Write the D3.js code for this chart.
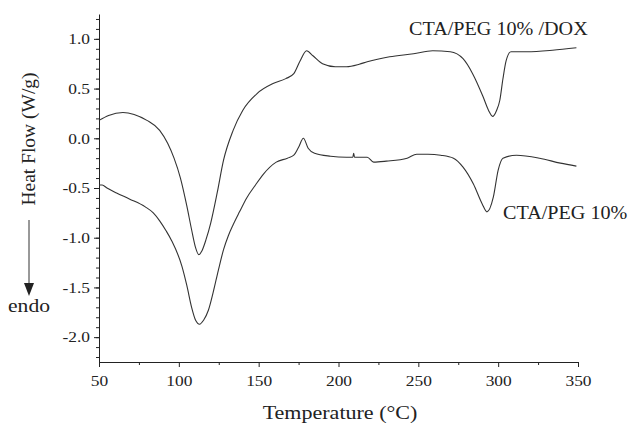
<!DOCTYPE html>
<html>
<head>
<meta charset="utf-8">
<script src="https://cdn.jsdelivr.net/npm/d3@7"></script>
<style>
  body { margin: 0; background: #fff; }
  svg text { font-family: "Liberation Serif", "DejaVu Serif", serif; fill: #222; }
</style>
</head>
<body>
<div class="chart"></div>
<script>
const margin = { top: 14, right: 50, bottom: 63, left: 99 }
const width = 628
const height = 425
// the original figure's lettering is a little wider than normal
const stretch = 1.16

// DSC traces (temperature in °C, heat flow in W/g)
const doxTemp = [50, 56, 65, 72, 80, 88, 93, 97, 101, 105, 108, 110.5, 112.5, 114.5, 117, 120, 124, 128, 134, 140, 149, 159, 167, 172, 176, 180, 184, 190, 198, 205, 213, 218, 232, 247, 259, 270, 278, 284, 290.5, 294, 296.5, 299, 301, 303, 305, 308, 318, 334, 349]
const doxFlow = [0.18, 0.23, 0.26, 0.24, 0.18, 0.08, -0.05, -0.20, -0.40, -0.68, -0.92, -1.10, -1.17, -1.13, -1.02, -0.85, -0.55, -0.22, 0.08, 0.28, 0.45, 0.55, 0.60, 0.65, 0.78, 0.88, 0.83, 0.75, 0.72, 0.72, 0.745, 0.77, 0.82, 0.85, 0.88, 0.87, 0.80, 0.65, 0.42, 0.28, 0.22, 0.28, 0.38, 0.60, 0.78, 0.87, 0.87, 0.885, 0.91]

const pegTemp = [50, 52, 55, 61, 69, 79, 84, 88, 92, 95.5, 102, 105, 108, 110.5, 113, 115.5, 118.5, 121.5, 124.7, 128, 131, 134, 138, 142.5, 148, 153, 161, 168, 172, 175, 178, 181, 185, 195, 205, 209, 209.5, 210, 214, 218, 222, 230, 243, 249, 256, 264, 272, 278, 284.5, 290, 293, 297, 300, 303, 311.5, 326, 339, 349]
const pegFlow = [-0.47, -0.47, -0.50, -0.55, -0.61, -0.69, -0.75, -0.83, -0.93, -1.03, -1.29, -1.48, -1.70, -1.83, -1.87, -1.83, -1.73, -1.55, -1.33, -1.12, -0.98, -0.87, -0.74, -0.60, -0.47, -0.36, -0.24, -0.20, -0.17, -0.09, 0.00, -0.10, -0.15, -0.18, -0.19, -0.19, -0.15, -0.19, -0.19, -0.19, -0.24, -0.23, -0.20, -0.16, -0.16, -0.17, -0.20, -0.29, -0.46, -0.66, -0.74, -0.59, -0.32, -0.20, -0.17, -0.20, -0.25, -0.28]

const xTicks = [50, 100, 150, 200, 250, 300, 350]
const yTicks = [-2.0, -1.5, -1.0, -0.5, 0.0, 0.5, 1.0]
const seriesLabels = ['CTA/PEG 10% /DOX', 'CTA/PEG 10%']

const svg = d3.select('.chart')
    .append('svg')
    .attr('width', width)
    .attr('height', height)

const x = d3.scaleLinear()
    .domain([50, 350])
    .range([margin.left, 578])

const y = d3.scaleLinear()
    .domain([-2.25, 1.25])
    .range([height - margin.bottom, margin.top])

// minor ticks first so the major ones draw over them
svg.append('g')
    .attr('transform', `translate(0,${y(-2.25)})`)
    .call(d3.axisBottom(x).tickValues(d3.range(75, 350, 50)).tickSize(3).tickFormat(''))
    .call(g => g.select('.domain').remove())

svg.append('g')
    .attr('transform', `translate(${x(50)},0)`)
    .call(d3.axisLeft(y).tickValues(d3.range(-22, 13).map(d => d / 10)).tickSize(3).tickFormat(''))
    .call(g => g.select('.domain').remove())

const xAxis = svg.append('g')
    .attr('transform', `translate(0,${y(-2.25)})`)
    .call(d3.axisBottom(x).tickValues(xTicks).tickSize(5).tickSizeOuter(0).tickPadding(8))

const yAxis = svg.append('g')
    .attr('transform', `translate(${x(50)},0)`)
    .call(d3.axisLeft(y).tickValues(yTicks).tickSize(5).tickSizeOuter(0).tickFormat(d3.format('.1f')))

svg.selectAll('.tick text')
    .style('font-size', '15px')
    .style('font-family', '"Liberation Serif", serif')
    .attr('transform', `scale(${stretch},1)`)
svg.selectAll('.domain, .tick line').attr('stroke', '#222')

// tick label uses a hyphen like the original figure
yAxis.selectAll('.tick text')
    .attr('x', -9 / stretch)
    .text(d => d3.format('.1f')(d).replace('−', '-'))

const line = d3.line()
    .x(d => x(d[0]))
    .y(d => y(d[1]))
    .curve(d3.curveMonotoneX)

svg.append('path')
    .datum(d3.zip(doxTemp, doxFlow))
    .attr('fill', 'none')
    .attr('stroke', '#333')
    .attr('stroke-width', 1.1)
    .attr('d', line)

svg.append('path')
    .datum(d3.zip(pegTemp, pegFlow))
    .attr('fill', 'none')
    .attr('stroke', '#333')
    .attr('stroke-width', 1.1)
    .attr('d', line)

svg.append('text')
    .attr('transform', `translate(409,35) scale(1.12,1)`)
    .style('font-size', '18px')
    .text(seriesLabels[0])

svg.append('text')
    .attr('transform', `translate(503,219) scale(1.12,1)`)
    .style('font-size', '18px')
    .text(seriesLabels[1])

svg.append('text')
    .attr('transform', `translate(340,419) scale(${stretch},1)`)
    .attr('text-anchor', 'middle')
    .style('font-size', '19px')
    .text('Temperature (°C)')

svg.append('text')
    .attr('transform', 'translate(35,139) rotate(-90)')
    .attr('text-anchor', 'middle')
    .style('font-size', '19.5px')
    .text('Heat Flow (W/g)')

// endo arrow
svg.append('line')
    .attr('x1', 29).attr('x2', 29)
    .attr('y1', 220).attr('y2', 285)
    .attr('stroke', '#333')
    .attr('stroke-width', 1)

svg.append('path')
    .attr('d', 'M24,283 L34,283 L29,296 Z')
    .attr('fill', '#222')

svg.append('text')
    .attr('transform', 'translate(29,312) scale(1.2,1)')
    .attr('text-anchor', 'middle')
    .style('font-size', '18px')
    .text('endo')
</script>
</body>
</html>
